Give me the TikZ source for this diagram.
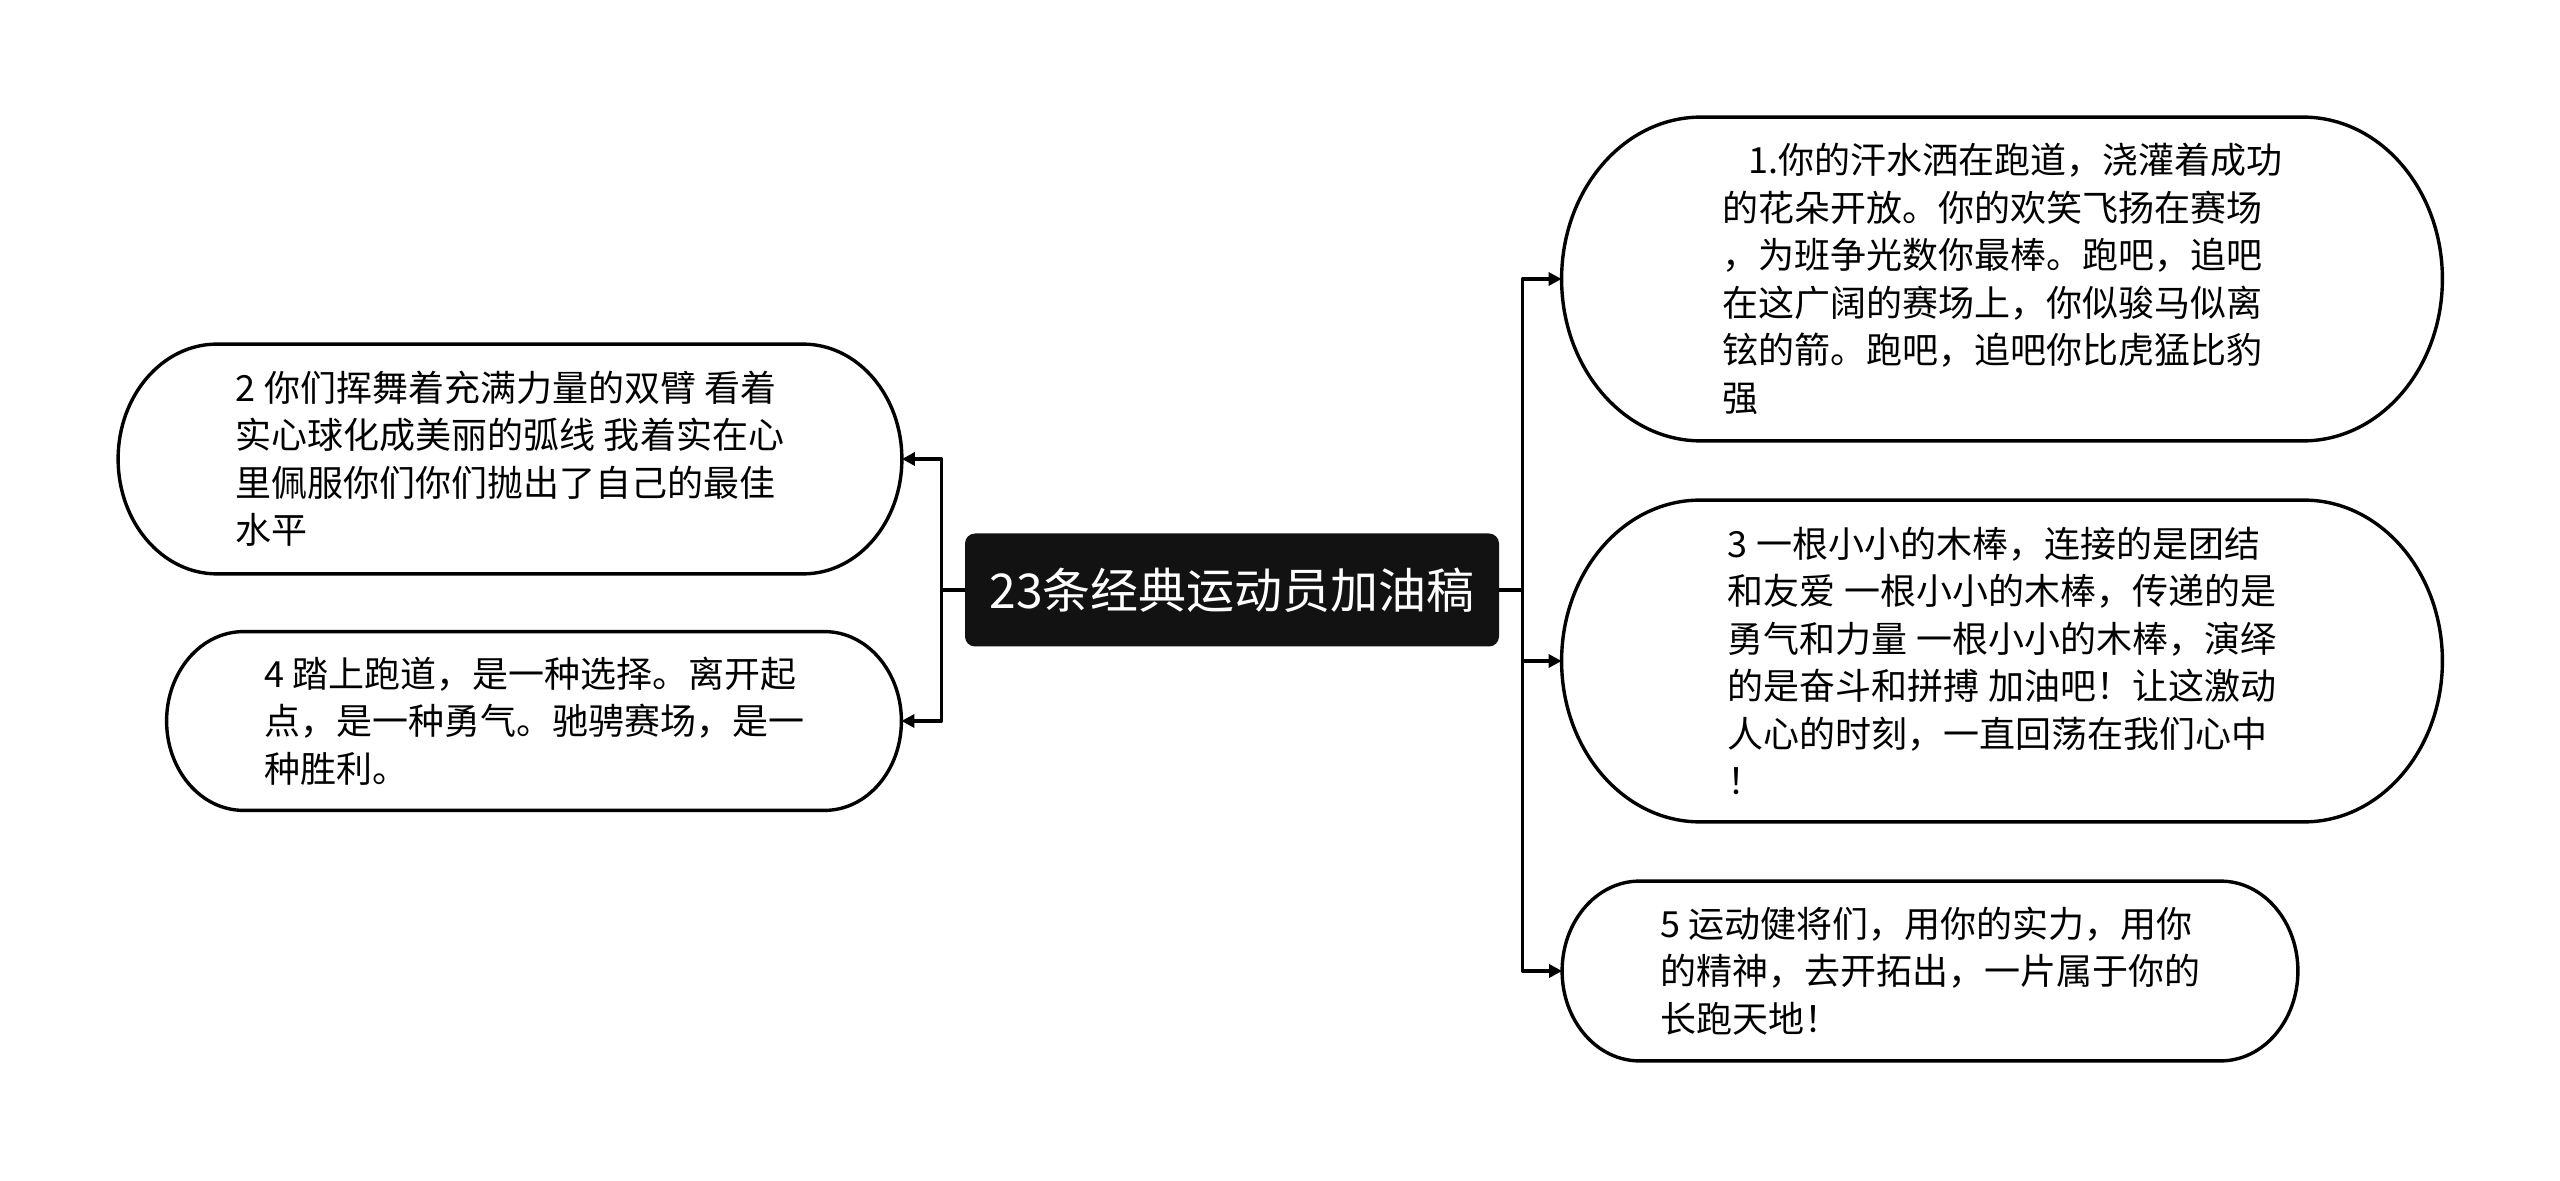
\documentclass[tikz,border=0pt]{standalone}
\usepackage{fontspec}
\setmainfont{Noto Sans CJK SC}
\usetikzlibrary{calc,arrows.meta}

\tikzset{
  leaf/.style={align=left,inner sep=0pt,font=\fontsize{18pt}{23.75pt}\selectfont},
  pill/.style={line width=1.7pt,line join=round},
  link/.style={line width=1.6pt,-{Triangle[length=6.5pt,width=6.5pt]}},
  root/.style={fill=black!93,text=white,rounded corners=5pt,inner sep=0pt,
    minimum width=267pt,minimum height=56.5pt,font=\fontsize{24pt}{28pt}\selectfont},
}
% elliptic-ended outline round a leaf node
\newcommand\pillaround[1]{%
  \draw[pill] let \p1=(#1.north west), \p2=(#1.south east),
      \n1={(\y1-\y2)/2}, \n2={0.86*\n1} in
    (\x1+\n2,\y1) -- (\x2-\n2,\y1)
    arc[start angle=90,end angle=-90,x radius=\n2,y radius=\n1]
    -- (\x1+\n2,\y2)
    arc[start angle=270,end angle=90,x radius=\n2,y radius=\n1] -- cycle;}

\begin{document}
\begin{tikzpicture}[x=0.5pt,y=0.5pt,line join=round]
  \useasboundingbox (0,0) rectangle (2560,-1181);
  \def\gap{23}% trunk distance from root
  \node[root] (root) at (1232,-590) {23条经典运动员加油稿};

  \node[leaf,minimum width=440pt,minimum height=161.5pt] (n1) at (2002,-279)
    {\hspace*{13pt}1.你的汗水洒在跑道，浇灌着成功\\的花朵开放。你的欢笑飞扬在赛场\\，为班争光数你最棒。跑吧，追吧\\在这广阔的赛场上，你似骏马似离\\铉的箭。跑吧，追吧你比虎猛比豹\\强};
  \node[leaf,minimum width=440pt,minimum height=160.5pt] (n3) at (2002,-661)
    {3 一根小小的木棒，连接的是团结\\和友爱 一根小小的木棒，传递的是\\勇气和力量 一根小小的木棒，演绎\\的是奋斗和拼搏 加油吧！让这激动\\人心的时刻，一直回荡在我们心中\\！};
  \node[leaf,minimum width=367.5pt,minimum height=89.5pt] (n5) at (1930,-971)
    {5 运动健将们，用你的实力，用你\\的精神，去开拓出，一片属于你的\\长跑天地！};
  \node[leaf,minimum width=391.5pt,minimum height=114.5pt] (n2) at (510,-459)
    {2 你们挥舞着充满力量的双臂 看着\\实心球化成美丽的弧线 我着实在心\\里佩服你们你们抛出了自己的最佳\\水平};
  \node[leaf,minimum width=367pt,minimum height=89pt] (n4) at (534,-721)
    {4 踏上跑道，是一种选择。离开起\\点，是一种勇气。驰骋赛场，是一\\种胜利。};

  \foreach \leafname in {n1,n2,n3,n4,n5} {\pillaround{\leafname}}

  \draw[link] (root.east) -- ++(\gap,0) |- (n1.west);
  \draw[link] (root.east) -- ++(\gap,0) |- (n3.west);
  \draw[link] (root.east) -- ++(\gap,0) |- (n5.west);
  \draw[link] (root.west) -- ++(-\gap,0) |- (n2.east);
  \draw[link] (root.west) -- ++(-\gap,0) |- (n4.east);
\end{tikzpicture}
\end{document}
